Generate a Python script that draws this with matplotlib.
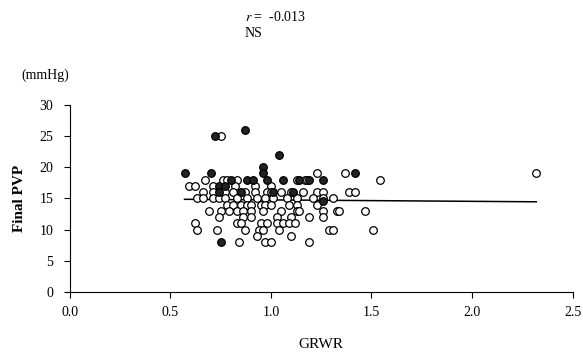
import numpy as np
import matplotlib
matplotlib.use("Agg")
from matplotlib import pyplot as plt

plt.rcParams['font.family'] = ['Liberation Serif', 'DejaVu Serif']
plt.rcParams['mathtext.fontset'] = 'stix'

# open circles
open_x = [0.75,
          1.23, 1.37, 2.32,
          0.67, 0.76, 0.78, 0.83, 1.13, 1.17, 1.18, 1.54,
          0.59, 0.62, 0.71, 0.82, 0.92, 1.00,
          0.66, 0.71, 0.77, 0.81, 0.87, 0.92, 0.98, 1.00, 1.05, 1.10, 1.16, 1.23, 1.26, 1.39, 1.42,
          0.63, 0.66, 0.71, 0.74, 0.77, 0.83, 0.88, 0.93, 0.97, 1.01, 1.08, 1.13, 1.21, 1.26, 1.31,
          0.78, 0.81, 0.85, 0.88, 0.90, 0.95, 0.97, 1.00, 1.09, 1.13, 1.23,
          0.69, 0.75, 0.79, 0.83, 0.86, 0.90, 0.96, 1.05, 1.13, 1.14, 1.26, 1.33, 1.34, 1.47,
          0.74, 0.86, 0.90, 1.03, 1.10, 1.19, 1.26,
          0.62, 0.83, 0.85, 0.95, 0.98, 1.03, 1.06, 1.09, 1.12,
          0.63, 0.73, 0.87, 0.94, 0.96, 1.04, 1.29, 1.31, 1.51,
          0.93, 1.10,
          0.84, 0.97, 1.00, 1.19]
open_y = [25,
          19, 19, 19,
          18, 18, 18, 18, 18, 18, 18, 18,
          17, 17, 17, 17, 17, 17,
          16, 16, 16, 16, 16, 16, 16, 16, 16, 16, 16, 16, 16, 16, 16,
          15, 15, 15, 15, 15, 15, 15, 15, 15, 15, 15, 15, 15, 15, 15,
          14, 14, 14, 14, 14, 14, 14, 14, 14, 14, 14,
          13, 13, 13, 13, 13, 13, 13, 13, 13, 13, 13, 13, 13, 13,
          12, 12, 12, 12, 12, 12, 12,
          11, 11, 11, 11, 11, 11, 11, 11, 11,
          10, 10, 10, 10, 10, 10, 10, 10, 10,
          9, 9,
          8, 8, 8, 8]

# filled circles
filled_x = [0.57, 0.70, 0.72, 0.87, 0.75, 0.74, 0.74, 0.77, 0.80, 0.85, 0.88, 0.91,
            0.96, 0.96, 0.98, 1.01, 1.04, 1.06, 1.11, 1.14, 1.19, 1.26, 1.26, 1.42]
filled_y = [19, 19, 25, 26, 8, 17, 16, 17, 18, 16, 18, 18,
            20, 19, 18, 16, 22, 18, 16, 18, 18, 18, 14.5, 19]

# regression line end points
line_x = [0.57, 2.32]
line_y = [14.85, 14.45]

fig = plt.figure(figsize=(5.83, 3.52), dpi=100)
ax = fig.add_axes([0.120, 0.170, 0.862, 0.533])

ax.plot(line_x, line_y, color="black", lw=1.1, zorder=1)
ax.scatter(open_x, open_y, s=30, facecolors="white", edgecolors="black", linewidths=0.9, zorder=2)
ax.scatter(filled_x, filled_y, s=30, facecolors="#222222", edgecolors="black", linewidths=0.9, zorder=3)

ax.set_xlim(0, 2.5)
ax.set_ylim(0, 30)
ax.set_xticks([0.0, 0.5, 1.0, 1.5, 2.0, 2.5])
ax.set_xticklabels(["0.0", "0.5", "1.0", "1.5", "2.0", "2.5"])
ax.set_yticks([0, 5, 10, 15, 20, 25, 30])
ax.spines["top"].set_visible(False)
ax.spines["right"].set_visible(False)
ax.tick_params(direction="out", length=4, width=0.8, labelsize=10)
ax.tick_params(axis="x", pad=6)
ax.tick_params(axis="y", pad=8)

ax.set_xlabel("GRWR", fontsize=11, labelpad=14)
ax.set_ylabel("Final PVP", fontsize=11, fontweight="bold", labelpad=10)

fig.text(0.037, 0.787, "(mmHg)", fontsize=10, ha="left", va="center")
fig.text(0.42, 0.952, "$\\it{r}$ =  -0.013", fontsize=10, ha="left", va="center")
fig.text(0.42, 0.905, "NS", fontsize=10, ha="left", va="center")

fig.savefig("out.png", dpi=100)
